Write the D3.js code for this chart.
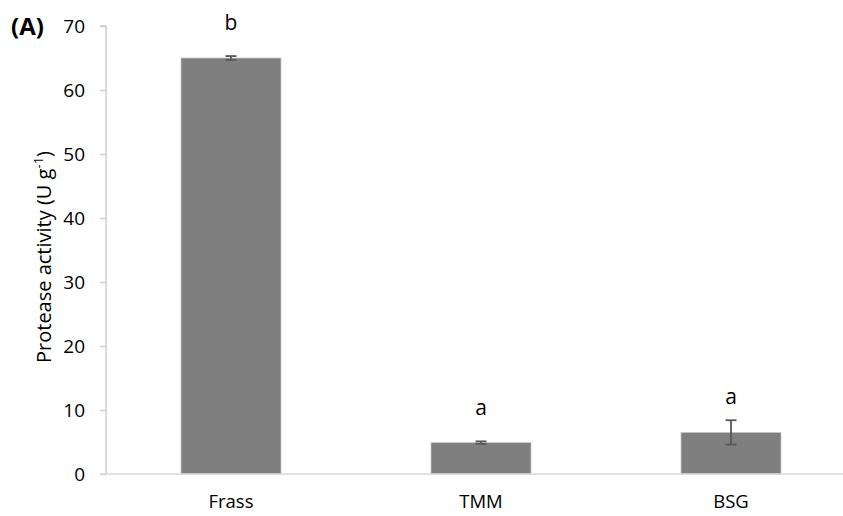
<!DOCTYPE html>
<html><head><meta charset="utf-8">
<script src="https://cdn.jsdelivr.net/npm/d3@7"></script>
<style>body{margin:0;background:#fff}svg{display:block}text{font-family:"Open Sans","Noto Sans",sans-serif}</style>
</head><body>
<script>
const categories = ["Frass", "TMM", "BSG"];
const values = [65.0, 4.9, 6.5];
const errors = [0.3, 0.2, 1.9];
const letters = ["b", "a", "a"];
const yTicks = [0, 10, 20, 30, 40, 50, 60, 70];

const W = 843, H = 516;
const svg = d3.select("body").append("svg").attr("width", W).attr("height", H);
const x = d3.scaleBand().domain(categories).range([106, 856]).paddingInner(0.6).paddingOuter(0.3);
const y = d3.scaleLinear().domain([0, 70]).range([474, 26]);

// y axis
const ya = svg.append("g").attr("transform", "translate(106,0)")
  .call(d3.axisLeft(y).tickValues(yTicks).tickSize(6).tickPadding(15));
ya.select(".domain").attr("stroke", "#d0d0d0").attr("stroke-width", 1.5).attr("d", `M-6,${y(70)}H0V${y(0)}`);
ya.selectAll(".tick line").attr("stroke", "#d0d0d0").attr("stroke-width", 1.5);
ya.selectAll(".tick text").attr("font-size", 19).attr("fill", "#000").attr("font-family", '"Open Sans",sans-serif');

// bars
svg.append("g").selectAll("rect").data(categories).join("rect")
  .attr("x", d => x(d)).attr("width", x.bandwidth())
  .attr("y", (d, i) => y(values[i])).attr("height", (d, i) => y(0) - y(values[i]))
  .attr("fill", "#7f7f7f").attr("stroke", "#c8c8c8").attr("stroke-width", 0.8);

// x axis
svg.append("line").attr("x1", 100).attr("x2", W).attr("y1", y(0)).attr("y2", y(0))
  .attr("stroke", "#d9d9d9").attr("stroke-width", 1.5);
svg.append("g").selectAll("text").data(categories).join("text")
  .attr("x", d => x(d) + x.bandwidth() / 2).attr("y", 508)
  .attr("text-anchor", "middle").attr("font-size", 18.5).text(d => d);

// error bars
const eb = svg.append("g").attr("stroke", "#595959").attr("stroke-width", 1.8);
categories.forEach((c, i) => {
  const cx = x(c) + x.bandwidth() / 2;
  const y1 = y(values[i] + errors[i]), y2 = y(values[i] - errors[i]);
  eb.append("line").attr("x1", cx).attr("x2", cx).attr("y1", y1).attr("y2", y2);
  eb.append("line").attr("x1", cx - 5.5).attr("x2", cx + 5.5).attr("y1", y1).attr("y2", y1);
  eb.append("line").attr("x1", cx - 5.5).attr("x2", cx + 5.5).attr("y1", y2).attr("y2", y2);
});

// letters
svg.append("g").selectAll("text").data(categories).join("text")
  .attr("x", d => x(d) + x.bandwidth() / 2)
  .attr("y", (d, i) => y(values[i]) - 28)
  .attr("text-anchor", "middle").attr("font-size", 21).text((d, i) => letters[i]);

// y label
const yl = svg.append("text").attr("transform", "translate(51,257) rotate(-90)")
  .attr("text-anchor", "middle").attr("font-size", 20);
yl.append("tspan").text("Protease activity (U g");
yl.append("tspan").attr("dy", -8).attr("font-size", 13).text("-1");
yl.append("tspan").attr("dy", 8).text(")");

// panel label
svg.append("text").attr("x", 11).attr("y", 35).attr("font-size", 24).attr("font-weight", "bold").text("(A)");
</script>
</body></html>
